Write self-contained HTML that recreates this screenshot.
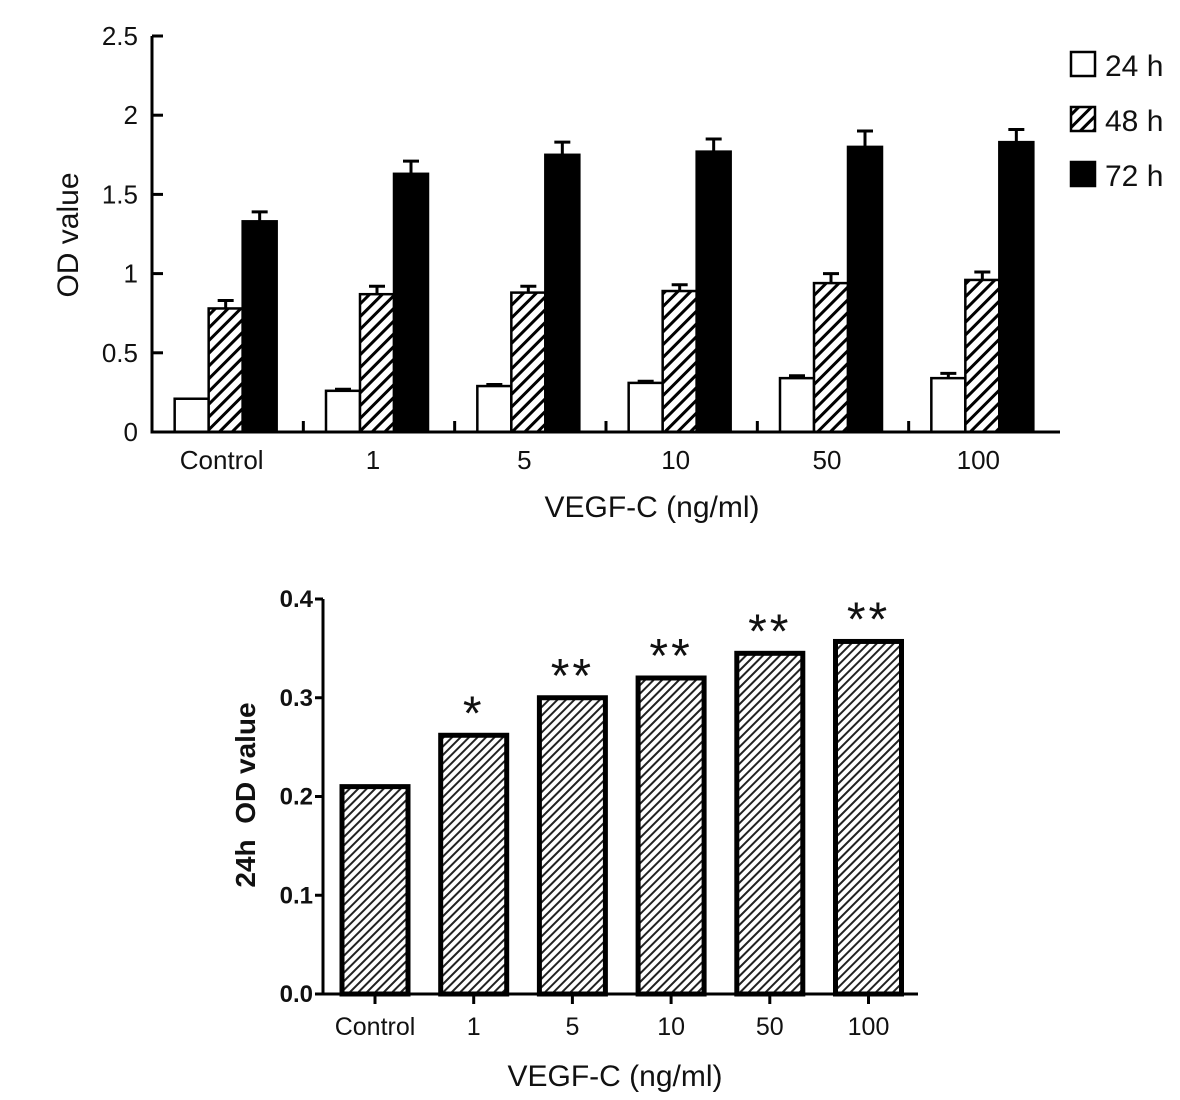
<!DOCTYPE html>
<html><head><meta charset="utf-8"><style>
html,body{margin:0;padding:0;background:#fff}
svg{display:block}
text{font-family:"Liberation Sans",Arial,sans-serif;fill:#111}
</style></head><body>
<svg id="chart" width="1180" height="1100" viewBox="0 0 1180 1100" xmlns="http://www.w3.org/2000/svg">
<defs>
<pattern id="hatchA" patternUnits="userSpaceOnUse" width="9" height="9" patternTransform="rotate(45)"><rect width="9" height="9" fill="#fff"/><rect x="0" y="0" width="3" height="9" fill="#000"/></pattern>
<pattern id="hatchB" patternUnits="userSpaceOnUse" width="6" height="6" patternTransform="rotate(45)"><rect width="6" height="6" fill="#fff"/><rect x="0" y="0" width="2" height="6" fill="#222"/></pattern>
</defs>
<g id="top"></g>
<g id="bot"></g>
</svg>
<script>
const categories = ["Control","1","5","10","50","100"];
const series24 = [0.21,0.26,0.29,0.31,0.34,0.34];
const err24 = [0,0.01,0.01,0.01,0.015,0.03];
const series48 = [0.78,0.87,0.88,0.89,0.94,0.96];
const err48 = [0.05,0.05,0.04,0.04,0.06,0.05];
const series72 = [1.33,1.63,1.75,1.77,1.80,1.83];
const err72 = [0.06,0.08,0.08,0.08,0.10,0.08];
const topTicks = ["0","0.5","1","1.5","2","2.5"];
const botValues = [0.21,0.262,0.30,0.32,0.345,0.357];
const botStars = ["","*","**","**","**","**"];
const botTicks = ["0.0","0.1","0.2","0.3","0.4"];

const NS="http://www.w3.org/2000/svg";
function mk(parent,tag,attrs,txt){const e=document.createElementNS(NS,tag);for(const k in attrs)e.setAttribute(k,attrs[k]);if(txt!==undefined)e.textContent=txt;parent.appendChild(e);return e;}

// ---- top chart ----
const T=document.getElementById('top');
const tx0=152,tx1=1060,ty0=432,tyTop=36,tmax=2.5;
const ty=v=>ty0-(v/tmax)*(ty0-tyTop);
const band=(tx1-tx0)/categories.length;
const gc=i=>tx0+band*(i+0.5)-2;
const bw=34;
const tseries=[[series24,err24,'#fff'],[series48,err48,'url(#hatchA)'],[series72,err72,'#000']];
tseries.forEach((s,si)=>{
  s[0].forEach((v,i)=>{
    const x=gc(i)-1.5*bw+si*bw;
    const e=s[1][i];
    if(e>0){
      const l=mk(T,'path',{d:`M${x+bw/2} ${ty(v)} V${ty(v+e)} M${x+bw/2-8} ${ty(v+e)} H${x+bw/2+8}`,stroke:'#000','stroke-width':3,fill:'none'});
      
      
    }
    const r=mk(T,'rect',{x:x,y:ty(v),width:bw,height:ty0-ty(v),fill:s[2],stroke:'#000','stroke-width':2.5});
    
    
  });
});
const tax=mk(T,'path',{d:`M${tx0} ${tyTop} V${ty0} H${tx1}`,stroke:'#000','stroke-width':3,fill:'none'});


topTicks.forEach((t,i)=>{
  const y=ty(i*0.5);
  mk(T,'line',{x1:tx0,x2:tx0+11,y1:y,y2:y,stroke:'#000','stroke-width':3});
  const tt=mk(T,'text',{x:tx0-14,y:y+9,'text-anchor':'end','font-size':26},t);
  
  
});
categories.forEach((c,i)=>{
  if(i>0){mk(T,'line',{x1:tx0+band*i,x2:tx0+band*i,y1:ty0,y2:ty0-11,stroke:'#000','stroke-width':3});}
  const tt=mk(T,'text',{x:gc(i)-4,y:469,'text-anchor':'middle','font-size':26},c);
  
  
});
let lab=mk(T,'text',{x:652,y:517,'text-anchor':'middle','font-size':30},'VEGF-C (ng/ml)');


lab=mk(T,'text',{x:0,y:0,'text-anchor':'middle','font-size':30,transform:'translate(78 235) rotate(-90)'},'OD value');


const leg=[['24 h','#fff',52],['48 h','url(#hatchA)',107],['72 h','#000',162]];
leg.forEach(l=>{
  const g=mk(T,'g',{});
  
  
  mk(g,'rect',{x:1071,y:l[2],width:24,height:24,fill:l[1],stroke:'#000','stroke-width':2.5});
  mk(g,'text',{x:1105,y:l[2]+24,'font-size':30},l[0]);
});

// ---- bottom chart ----
const B=document.getElementById('bot');
const bx0=323,bx1=918,by0=994,byTop=599,bmax=0.4;
const by=v=>by0-(v/bmax)*(by0-byTop);
const bband=98.7;
const bc=i=>bx0+52+bband*i;
const bbw=66;
botValues.forEach((v,i)=>{
  const r=mk(B,'rect',{x:bc(i)-bbw/2,y:by(v),width:bbw,height:by0-by(v),fill:'url(#hatchB)',stroke:'#000','stroke-width':5});
  
  
  if(botStars[i]){
    const s=mk(B,'text',{x:bc(i),y:by(v)-6,'text-anchor':'middle','font-size':48,'letter-spacing':'3'},botStars[i]);
    
    
  }
  mk(B,'line',{x1:bc(i),x2:bc(i),y1:by0,y2:by0+10,stroke:'#000','stroke-width':3});
  const tt=mk(B,'text',{x:bc(i),y:1035,'text-anchor':'middle','font-size':25},categories[i]);
  
  
});
const bax=mk(B,'path',{d:`M${bx0} ${byTop} V${by0} H${bx1}`,stroke:'#000','stroke-width':3,fill:'none'});


botTicks.forEach((t,i)=>{
  const y=by(i*0.1);
  mk(B,'line',{x1:bx0-8,x2:bx0,y1:y,y2:y,stroke:'#000','stroke-width':3});
  const tt=mk(B,'text',{x:bx0-10,y:y+8,'text-anchor':'end','font-size':24,'font-weight':'bold'},t);
  
  
});
lab=mk(B,'text',{x:615,y:1086,'text-anchor':'middle','font-size':30},'VEGF-C (ng/ml)');


lab=mk(B,'text',{x:0,y:0,'text-anchor':'middle','font-size':28,'font-weight':'bold',style:'white-space:pre',transform:'translate(255 795) rotate(-90)'},'24h  OD value');


</script>
</body></html>
